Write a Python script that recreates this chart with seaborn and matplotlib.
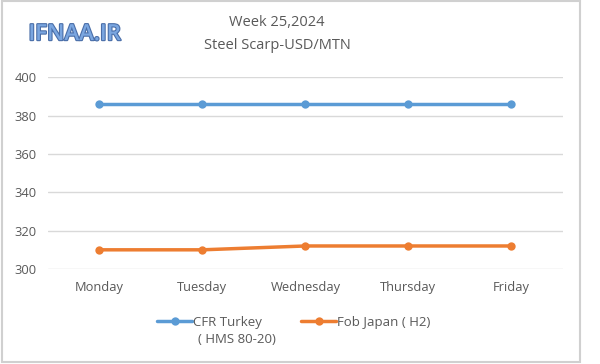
import numpy as np
import pandas as pd
import matplotlib
matplotlib.use("Agg")
import matplotlib.pyplot as plt
import matplotlib.patheffects as pe
import seaborn as sns

days = ["Monday", "Tuesday", "Wednesday", "Thursday", "Friday"]
cfr_turkey = [386, 386, 386, 386, 386]
fob_japan = [310, 310, 312, 312, 312]
series_names = ["CFR Turkey", "Fob Japan ( H2)"]
cfr_second_line = "( HMS 80-20)"
colors = ["#5B9BD5", "#ED7D31"]

df = pd.DataFrame({
    "day": days * 2,
    "price": cfr_turkey + fob_japan,
    "series": [series_names[0]] * len(days) + [series_names[1]] * len(days),
})
df["x"] = df["day"].map({d: i for i, d in enumerate(days)})

sns.set_style("white")
plt.rcParams["font.family"] = ["Open Sans", "DejaVu Sans"]
text_color = "#595959"

fig = plt.figure(figsize=(6, 3.64), dpi=100)
ax = fig.add_axes([0.08, 0.261, 0.858, 0.527])

sns.lineplot(data=df, x="x", y="price", hue="series", palette=colors,
             marker="o", markersize=6, markeredgewidth=0, linewidth=2.5,
             ax=ax, legend=True)

ax.set_xlim(-0.5, 4.5)
ax.set_ylim(300, 400)
ax.set_yticks(np.arange(300, 401, 20))
ax.set_xticks(range(len(days)))
ax.set_xticklabels(days)
ax.grid(axis="y", color="#d9d9d9", linewidth=1)
ax.set_axisbelow(True)
for s in ax.spines.values():
    s.set_visible(False)
ax.tick_params(axis="both", length=0, labelsize=9.3, labelcolor=text_color)
ax.tick_params(axis="x", pad=9)
ax.tick_params(axis="y", pad=8)
ax.set_xlabel("")
ax.set_ylabel("")

leg = ax.legend(loc="center left", bbox_to_anchor=(0.262, 0.115),
                bbox_transform=fig.transFigure, ncol=2, frameon=False,
                fontsize=9.5, labelcolor=text_color, borderpad=0,
                borderaxespad=0, handlelength=2.65, handletextpad=0.05,
                columnspacing=3.0)

# second line of the first legend label, under "CFR Turkey"
fig.canvas.draw()
bb = leg.get_texts()[0].get_window_extent().transformed(fig.transFigure.inverted())
fig.text(bb.x0 + 0.009, bb.y0 - 0.012, cfr_second_line, ha="left", va="top",
         fontsize=9.5, color=text_color)

fig.text(0.462, 0.937, "Week 25,2024", ha="center", va="center",
         fontsize=10.5, color=text_color)
fig.text(0.462, 0.874, "Steel Scarp-USD/MTN", ha="center", va="center",
         fontsize=10.5, color=text_color)
fig.text(0.125, 0.905, "IFNAA.IR", ha="center", va="center", fontsize=16,
         color="#7aa6e0", fontweight="semibold",
         path_effects=[pe.withStroke(linewidth=1.6, foreground="#4a6ea8")])

fig.patches.append(plt.Rectangle((0.003, 0.006), 0.963, 0.99,
                                 transform=fig.transFigure, fill=False,
                                 edgecolor="#d0d0d0", linewidth=1.5))

fig.savefig("out.png", dpi=100)
